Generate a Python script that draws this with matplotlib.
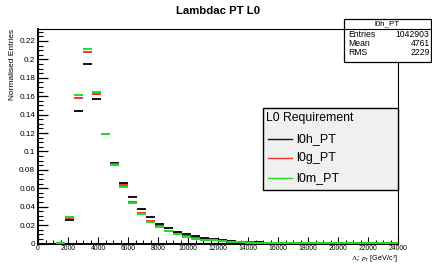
import numpy as np
import matplotlib
matplotlib.use("Agg")
import matplotlib.pyplot as plt
from matplotlib.patches import Rectangle
from matplotlib.lines import Line2D
from matplotlib.ticker import MultipleLocator, FixedLocator, FixedFormatter

plt.rcParams['font.family'] = ['Liberation Sans', 'DejaVu Sans']
plt.rcParams['mathtext.fontset'] = 'custom'
plt.rcParams['mathtext.rm'] = 'Liberation Serif'
plt.rcParams['mathtext.it'] = 'Liberation Serif:italic'

# ---- data ----
title = "Lambdac PT L0"
bin_start = 1200
bin_width = 600
series_names = ["l0h_PT", "l0g_PT", "l0m_PT"]
series_colors = ["#111111", "#ee3333", "#22dd22"]
l0h = [0.0003, 0.026, 0.144, 0.195, 0.157, 0.119, 0.0875, 0.0657, 0.0503, 0.038,
       0.0289, 0.0215, 0.0164, 0.0128, 0.0099, 0.0077, 0.006, 0.0046, 0.0037, 0.0028,
       0.0021, 0.0016, 0.0012, 0.0009, 0.0007, 0.0005, 0.0004, 0.0003, 0.0002, 0.00015,
       0.0001, 0.0001, 0.00008, 0.00006, 0.00005, 0.00004, 0.00003, 0.00002]
l0g = [0.0003, 0.028, 0.158, 0.2085, 0.1625, 0.119, 0.0865, 0.063, 0.0456, 0.0336,
       0.0248, 0.0186, 0.0137, 0.0103, 0.0077, 0.0055, 0.0042, 0.0036, 0.0027, 0.002,
       0.0015, 0.0011, 0.0008, 0.0006, 0.0004, 0.0003, 0.0002, 0.00015, 0.0001, 0.0001,
       0.00008, 0.00006, 0.00005, 0.00004, 0.00003, 0.00002, 0.00002, 0.00001]
l0m = [0.0003, 0.029, 0.161, 0.2117, 0.164, 0.1185, 0.0853, 0.0617, 0.0445, 0.0325,
       0.0237, 0.018, 0.0135, 0.0099, 0.0073, 0.0051, 0.004, 0.0035, 0.0026, 0.0019,
       0.0014, 0.001, 0.0007, 0.0005, 0.0004, 0.0003, 0.0002, 0.00015, 0.0001, 0.0001,
       0.00008, 0.00006, 0.00005, 0.00004, 0.00003, 0.00002, 0.00002, 0.00001]
series_values = [l0h, l0g, l0m]
y_tick_values = [0, 0.02, 0.04, 0.06, 0.08, 0.1, 0.12, 0.14, 0.16, 0.18, 0.2, 0.22]
y_tick_labels = ["0", "0.02", "0.04", "0.06", "0.08", "0.1", "0.12", "0.14", "0.16", "0.18", "0.2", "0.22"]
x_tick_values = list(range(0, 24001, 2000))
x_tick_labels = [str(v) for v in x_tick_values]
x_label = r"$\Lambda_{c}^{+}$ $p_{T}$ [GeV/c$^{2}$]"
y_label = "Normalised Entries"
stats_title = "l0h_PT"
stats_rows = [("Entries", "1042903"), ("Mean", "4761"), ("RMS", "2229")]
legend_title = "L0 Requirement"

W, H = 432, 264
fig = plt.figure(figsize=(W / 100, H / 100), dpi=100)
fig.patch.set_facecolor("white")

def fx(px):
    return px / W

def fy(py):
    return 1 - py / H

ax_l, ax_r, ax_t, ax_b = 38, 398, 28.5, 243.5
ax = fig.add_axes([fx(ax_l), fy(ax_b), fx(ax_r - ax_l), (ax_b - ax_t) / H])
ax.set_xlim(0, 24000)
ax.set_ylim(0, 0.2335)

for vals, col in zip(series_values, series_colors):
    vals = np.asarray(vals)
    lo = bin_start + bin_width * np.arange(len(vals))
    ax.hlines(vals, lo, lo + bin_width, colors=col, linewidth=1.4, zorder=3)

ax.xaxis.set_major_locator(FixedLocator(x_tick_values))
ax.xaxis.set_major_formatter(FixedFormatter(x_tick_labels))
ax.xaxis.set_minor_locator(MultipleLocator(500))
ax.yaxis.set_major_locator(FixedLocator(y_tick_values))
ax.yaxis.set_major_formatter(FixedFormatter(y_tick_labels))
ax.yaxis.set_minor_locator(MultipleLocator(0.005))

ax.tick_params(axis='x', which='major', direction='in', length=5, width=0.8,
               labelsize=4.9, pad=1.0, top=False)
ax.tick_params(axis='x', which='minor', direction='in', length=2.8, width=0.7, top=False)
ax.tick_params(axis='y', which='major', direction='in', length=7.5, width=0.9,
               labelsize=5.9, pad=2, right=False)
ax.tick_params(axis='y', which='minor', direction='in', length=3.6, width=0.8, right=False)

for s in ['left', 'bottom']:
    ax.spines[s].set_linewidth(1.4)
for s in ['top', 'right']:
    ax.spines[s].set_linewidth(0.8)

fig.text(fx(218), fy(11), title, ha='center', va='center', fontsize=8.2, fontweight='bold')
fig.text(fx(13), fy(29), y_label, rotation=90, ha='center', va='top', fontsize=6)
fig.text(fx(398), fy(260.6), x_label, ha='right', va='baseline', fontsize=5.2)

# stats box
sb_l, sb_r, sb_t, sb_b = 344, 431, 19, 62
fig.patches.append(Rectangle((fx(sb_l), fy(sb_b)), fx(sb_r - sb_l), (sb_b - sb_t) / H,
                             transform=fig.transFigure, facecolor='white', edgecolor='black',
                             linewidth=0.9, zorder=5))
fig.lines.append(Line2D([fx(sb_l), fx(sb_r)], [fy(28.5), fy(28.5)], transform=fig.transFigure,
                        color='black', linewidth=0.8, zorder=6))
fig.text(fx((sb_l + sb_r) / 2), fy(24), stats_title, ha='center', va='center', fontsize=5.8, zorder=7)
for i, (k, v) in enumerate(stats_rows):
    yy = 34.3 + 9.2 * i
    fig.text(fx(348.5), fy(yy), k, ha='left', va='center', fontsize=6.2, zorder=7)
    fig.text(fx(429.5), fy(yy), v, ha='right', va='center', fontsize=6.2, zorder=7)

# legend box
lg_l, lg_r, lg_t, lg_b = 263, 398, 108.5, 189.5
fig.patches.append(Rectangle((fx(lg_l), fy(lg_b)), fx(lg_r - lg_l), (lg_b - lg_t) / H,
                             transform=fig.transFigure, facecolor='#f0f0f0', edgecolor='black',
                             linewidth=1.0, zorder=5))
fig.text(fx(266), fy(118.5), legend_title, ha='left', va='center', fontsize=8.8, zorder=7)
for i, (name, col) in enumerate(zip(series_names, series_colors)):
    yy = 139 + 19.4 * i
    fig.lines.append(Line2D([fx(268), fx(292)], [fy(yy), fy(yy)], transform=fig.transFigure,
                            color=col, linewidth=1.0, zorder=7))
    fig.text(fx(296), fy(yy), name, ha='left', va='center', fontsize=9, zorder=7)

fig.savefig("out.png", dpi=100)
